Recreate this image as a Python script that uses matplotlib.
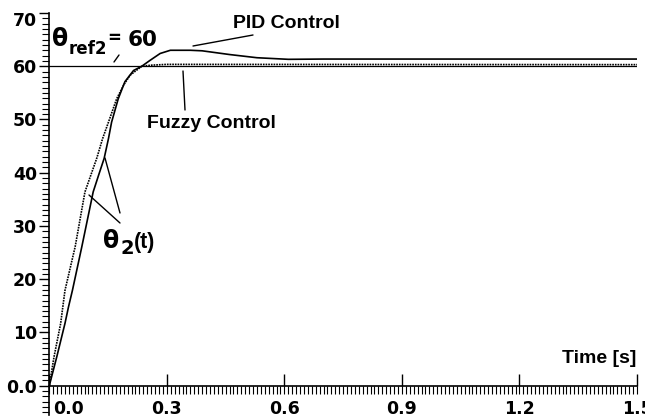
import matplotlib
matplotlib.use("Agg")
import matplotlib.pyplot as plt
import matplotlib.transforms as mtransforms
from matplotlib.ticker import MultipleLocator

# step responses
t_pid = [0, 0.019, 0.040, 0.049, 0.059, 0.083, 0.112, 0.127, 0.140, 0.151, 0.159,
         0.176, 0.193, 0.215, 0.236, 0.257, 0.283, 0.309, 0.36, 0.39, 0.46, 0.53,
         0.61, 0.70, 1.5]
y_pid = [0, 5.4, 11.7, 14.8, 17.9, 26.1, 36.4, 39.8, 42.7, 46.4, 49.5,
         53.9, 57.1, 59.2, 60.0, 61.1, 62.4, 63.0, 63.0, 62.9, 62.2, 61.6,
         61.3, 61.35, 61.35]

t_fuzzy = [0, 0.012, 0.029, 0.040, 0.066, 0.091, 0.121, 0.136, 0.151, 0.172,
           0.190, 0.206, 0.236, 0.26, 0.30, 0.35, 1.5]
y_fuzzy = [0, 5.4, 11.7, 17.9, 26.1, 36.4, 42.7, 46.4, 49.5, 53.9,
           56.5, 58.3, 60.0, 60.2, 60.35, 60.35, 60.3]

theta_ref = 60

x_ticks = [0.0, 0.3, 0.6, 0.9, 1.2, 1.5]
x_tick_labels = ["0.0", "0.3", "0.6", "0.9", "1.2", "1.5"]
y_ticks = [0, 10, 20, 30, 40, 50, 60, 70]
y_tick_labels = ["0.0", "10", "20", "30", "40", "50", "60", "70"]

W, H = 645, 419
fig = plt.figure(figsize=(W / 100, H / 100), dpi=100)
ax = fig.add_axes([49.3 / W, 4 / H, 587.7 / W, 402 / H])

ax.plot(t_pid, y_pid, color="black", lw=1.2)
ax.plot(t_fuzzy, y_fuzzy, color="black", lw=1.2, ls=(0, (1, 0.6)))
ax.axhline(theta_ref, color="black", lw=0.9)

ax.set_xlim(0, 1.5)
ax.set_ylim(-5.5, 70)
ax.spines["top"].set_visible(False)
ax.spines["right"].set_visible(False)
ax.spines["bottom"].set_position(("data", 0))
ax.spines["bottom"].set_linewidth(1.2)
ax.spines["left"].set_linewidth(1.2)

ax.set_xticks(x_ticks, x_tick_labels)
ax.xaxis.set_minor_locator(MultipleLocator(0.01))
ax.xaxis.remove_overlapping_locs = False
ax.tick_params(axis="x", which="major", direction="in", length=8.6, width=1,
               pad=10, labelsize=12.5)
ax.tick_params(axis="x", which="minor", direction="out", length=5.5, width=0.8)

ax.set_yticks(y_ticks, y_tick_labels)
ax.yaxis.set_minor_locator(MultipleLocator(1))
ax.tick_params(axis="y", which="major", direction="out", length=7.2, width=1,
               pad=1.5, labelsize=12.5)
ax.tick_params(axis="y", which="minor", direction="out", length=4.8, width=0.8)

for lbl in ax.get_xticklabels() + ax.get_yticklabels():
    lbl.set_fontfamily("DejaVu Sans")
    lbl.set_fontweight("bold")

# nudge the first x label off the y axis and the top y label into the frame
xl = ax.get_xticklabels()[0]
xl.set_transform(xl.get_transform() + mtransforms.ScaledTranslation(0.19, 0, fig.dpi_scale_trans))
yl = ax.get_yticklabels()[-1]
yl.set_transform(yl.get_transform() + mtransforms.ScaledTranslation(0, -0.06, fig.dpi_scale_trans))

# reference pixel coordinates (origin top-left) for the annotations
ref = mtransforms.Affine2D().scale(1 / 100, -1 / 100).translate(0, H / 100) + fig.dpi_scale_trans

lab = dict(family="Liberation Sans", weight="bold", ha="left", va="baseline",
           transform=ref)
dv = dict(family="DejaVu Sans", weight="bold", ha="left", va="baseline",
          transform=ref)
ax.text(233, 28, "PID Control", fontsize=14, **lab)
ax.text(147, 128, "Fuzzy Control", fontsize=14, **lab)
ax.text(562, 363, "Time [s]", fontsize=14, **lab)

ax.text(52, 46, "\u03b8", fontsize=17, **dv)
ax.text(69, 54, "ref2", fontsize=12, **dv)
ax.text(107, 43, "=", fontsize=12, **dv)
ax.text(128, 46, "60", fontsize=15.5, **dv)

ax.text(103, 248, "\u03b8", fontsize=17, **dv)
ax.text(120, 254, "2", fontsize=14, **dv)
ax.text(134, 248, "(t)", fontsize=15.5, **lab)

leaders = [((114, 62), (119, 55)),
           ((193, 46), (253, 35)),
           ((183, 71), (185, 110)),
           ((105, 158), (120, 213)),
           ((89, 195), (120, 223))]
for p0, p1 in leaders:
    ax.annotate("", xy=p0, xytext=p1, xycoords=ref, textcoords=ref,
                arrowprops=dict(arrowstyle="-", lw=1.0, color="black",
                                shrinkA=0, shrinkB=0))

fig.savefig("out.png", dpi=100)
